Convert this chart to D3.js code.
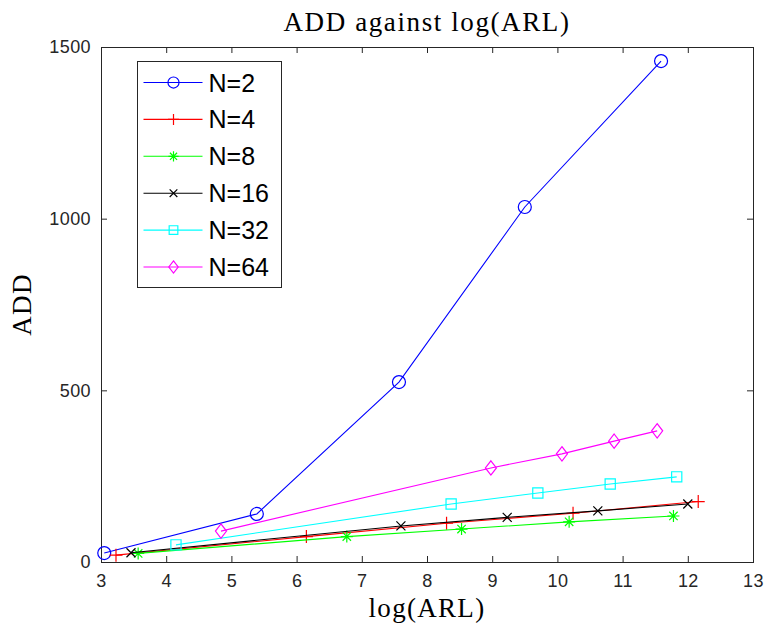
<!DOCTYPE html>
<html>
<head>
<meta charset="utf-8">
<script src="https://cdn.jsdelivr.net/npm/d3@7"></script>
<style>
  body { margin: 0; background: #fff; }
</style>
</head>
<body>
<div id="chart"></div>
<script>
// values
const seriesNames = ["N=2", "N=4", "N=8", "N=16", "N=32", "N=64"];
const seriesColors = ["#0000ff", "#ff0000", "#00ff00", "#000000", "#00ffff", "#ff00ff"];
const seriesMarkers = ["circle", "plus", "star", "cross", "square", "diamond"];

const logArl2 = [3.05, 5.39, 7.57, 9.50, 11.59];
const add2 = [26, 140, 524, 1034, 1459];
const logArl4 = [3.23, 6.15, 8.30, 10.24, 12.16];
const add4 = [20, 74, 113, 142, 176];
const logArl8 = [3.57, 6.77, 8.53, 10.18, 11.78];
const add8 = [25, 74, 96, 117, 134];
const logArl16 = [3.46, 7.60, 9.23, 10.62, 12.00];
const add16 = [27, 105, 130, 149, 169];
const logArl32 = [4.15, 8.37, 9.70, 10.81, 11.83];
const add32 = [50, 169, 201, 227, 248];
const logArl64 = [4.84, 8.98, 10.07, 10.87, 11.53];
const add64 = [90, 274, 315, 352, 382];

const xTicks = [3, 4, 5, 6, 7, 8, 9, 10, 11, 12, 13];
const yTicks = [0, 500, 1000, 1500];

const allX = [logArl2, logArl4, logArl8, logArl16, logArl32, logArl64];
const allY = [add2, add4, add8, add16, add32, add64];

const width = 765;
const height = 625;
const margin = { top: 47, right: 12, bottom: 63, left: 101 };
const axisColor = "#262626";

const svg = d3.select("#chart").append("svg")
  .attr("width", width)
  .attr("height", height);

const x = d3.scaleLinear().domain([3, 13]).range([margin.left, width - margin.right]);
const y = d3.scaleLinear().domain([0, 1500]).range([height - margin.bottom, margin.top]);

// axes with inward ticks on all four sides
const tickLen = 6;
svg.append("g")
  .attr("transform", `translate(0,${y(0)})`)
  .call(d3.axisBottom(x).tickValues(xTicks).tickSize(-tickLen).tickPadding(12).tickFormat(d3.format("d")))
  .call((g) => g.select(".domain").remove());
svg.append("g")
  .attr("transform", `translate(0,${y(1500)})`)
  .call(d3.axisTop(x).tickValues(xTicks).tickSize(-tickLen).tickFormat(""))
  .call((g) => g.select(".domain").remove());
svg.append("g")
  .attr("transform", `translate(${x(3)},0)`)
  .call(d3.axisLeft(y).tickValues(yTicks).tickSize(-tickLen).tickPadding(10).tickFormat(d3.format("d")))
  .call((g) => g.select(".domain").remove());
svg.append("g")
  .attr("transform", `translate(${x(13)},0)`)
  .call(d3.axisRight(y).tickValues(yTicks).tickSize(-tickLen).tickFormat(""))
  .call((g) => g.select(".domain").remove());

svg.selectAll(".tick line").attr("stroke", axisColor);
svg.selectAll(".tick text")
  .attr("fill", axisColor)
  .style("font", "18px 'Liberation Sans', Arial, sans-serif")
  .style("letter-spacing", "0.4px");

svg.append("rect")
  .attr("x", x(3) + 0.5)
  .attr("y", y(1500) + 0.5)
  .attr("width", x(13) - x(3))
  .attr("height", y(0) - y(1500))
  .attr("fill", "none")
  .attr("stroke", axisColor)
  .attr("stroke-width", 1);

// marker shapes drawn as paths around (0,0)
function markerPath(type, s) {
  switch (type) {
    case "circle":
      return `M${s},0A${s},${s} 0 1,1 ${-s},0A${s},${s} 0 1,1 ${s},0Z`;
    case "plus":
      return `M${-s},0H${s}M0,${-s}V${s}`;
    case "cross":
      return `M${-s * 0.75},${-s * 0.75}L${s * 0.75},${s * 0.75}M${-s * 0.75},${s * 0.75}L${s * 0.75},${-s * 0.75}`;
    case "star": {
      const d = s * 0.7;
      return `M${-s},0H${s}M0,${-s}V${s}M${-d},${-d}L${d},${d}M${-d},${d}L${d},${-d}`;
    }
    case "square":
      return `M${-s * 0.85},${-s * 0.85}H${s * 0.85}V${s * 0.85}H${-s * 0.85}Z`;
    case "diamond":
      return `M0,${-s * 1.1}L${s * 0.85},0L0,${s * 1.1}L${-s * 0.85},0Z`;
  }
}

const markerSize = { circle: 6.5, plus: 6.5, star: 6, cross: 6, square: 6, diamond: 6.5 };

const line = d3.line().x((d) => x(d[0])).y((d) => y(d[1]));

seriesNames.forEach((name, i) => {
  const pts = allX[i].map((v, j) => [v, allY[i][j]]);
  const g = svg.append("g");
  g.append("path")
    .datum(pts)
    .attr("d", line)
    .attr("fill", "none")
    .attr("stroke", seriesColors[i])
    .attr("stroke-width", 1.1);
  g.selectAll("path.m")
    .data(pts)
    .join("path")
    .attr("class", "m")
    .attr("transform", (d) => `translate(${x(d[0])},${y(d[1])})`)
    .attr("d", markerPath(seriesMarkers[i], markerSize[seriesMarkers[i]]))
    .attr("fill", "none")
    .attr("stroke", seriesColors[i])
    .attr("stroke-width", 1.2);
});

// legend
const legend = svg.append("g").attr("transform", "translate(137.5,61.5)");
legend.append("rect")
  .attr("width", 144)
  .attr("height", 226)
  .attr("fill", "#fff")
  .attr("stroke", axisColor)
  .attr("stroke-width", 1);

seriesNames.forEach((name, i) => {
  const row = legend.append("g").attr("transform", `translate(0,${21 + i * 36.9})`);
  row.append("line")
    .attr("x1", 6).attr("x2", 65)
    .attr("stroke", seriesColors[i])
    .attr("stroke-width", 1.1);
  row.append("path")
    .attr("transform", "translate(36,0)")
    .attr("d", markerPath(seriesMarkers[i], markerSize[seriesMarkers[i]] * 0.85))
    .attr("fill", "none")
    .attr("stroke", seriesColors[i])
    .attr("stroke-width", 1.2);
  row.append("text")
    .attr("x", 71)
    .attr("dy", "0.36em")
    .attr("fill", "#000")
    .style("font", "25px 'Liberation Sans', Arial, sans-serif")
    .text(name);
});

// title and axis labels
const serif = "'Liberation Serif', 'DejaVu Serif', serif";
svg.append("text")
  .attr("x", (x(3) + x(13)) / 2)
  .attr("y", 31)
  .attr("text-anchor", "middle")
  .style("font", `27px ${serif}`)
  .style("letter-spacing", "1.6px")
  .text("ADD against log(ARL)");

svg.append("text")
  .attr("x", (x(3) + x(13)) / 2)
  .attr("y", 617)
  .attr("text-anchor", "middle")
  .style("font", `27px ${serif}`)
  .style("letter-spacing", "1.3px")
  .text("log(ARL)");

svg.append("text")
  .attr("transform", `translate(31,${(y(0) + y(1500)) / 2}) rotate(-90)`)
  .attr("text-anchor", "middle")
  .style("font", `27px ${serif}`)
  .style("letter-spacing", "1.3px")
  .text("ADD");
</script>
</body>
</html>
